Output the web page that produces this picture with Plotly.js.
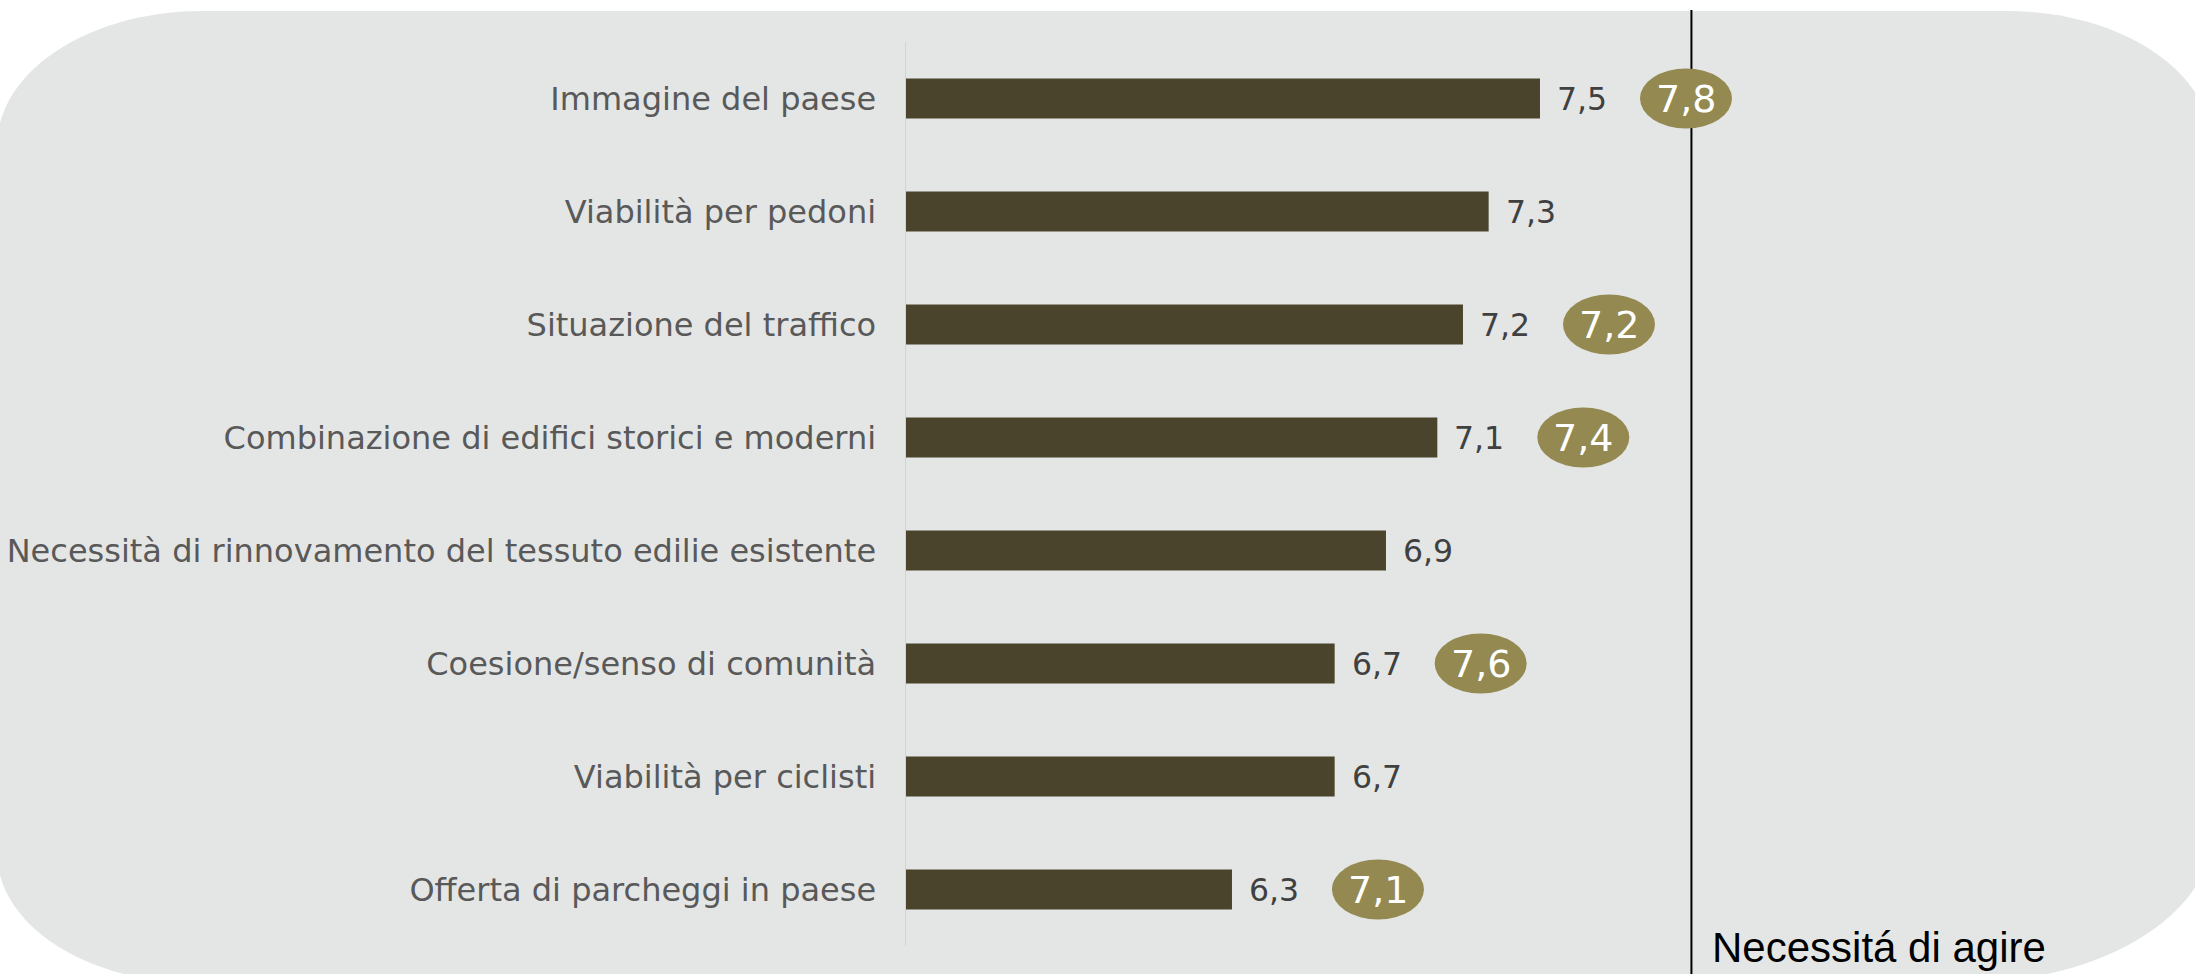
<!DOCTYPE html>
<html><head><meta charset="utf-8">
<script src="https://cdn.plot.ly/plotly-3.0.1.min.js"></script>
<style>html,body{margin:0;padding:0;background:#fff;} #chart{width:2195px;height:974px;}</style>
</head><body><div id="chart"></div>
<script>
// ---- data ----
const categories = [
  "Immagine del paese",
  "Viabilità per pedoni",
  "Situazione del traffico",
  "Combinazione di edifici storici e moderni",
  "Necessità di rinnovamento del tessuto edilie esistente",
  "Coesione/senso di comunità",
  "Viabilità per ciclisti",
  "Offerta di parcheggi in paese"
];
const ratingValues = [7.5, 7.3, 7.2, 7.1, 6.9, 6.7, 6.7, 6.3];
const actionValues = [7.8, null, 7.2, 7.4, null, 7.6, null, 7.1];
const actionLabel = "Necessitá di agire";
const actionLineValue = 8.09;

// ---- layout geometry ----
const W = 2195, H = 974;
const ML = 906, MT = 42, MB = 28, PW = 1019;
const MR = W - ML - PW;
const PH = H - MT - MB;
const X_RANGE = [5.03, 9.0];

const BAR_COLOR = "#4A442C";
const BUBBLE_COLOR = "#938951";
const BG_COLOR = "#E4E6E5";

const fmt = v => v.toFixed(1).replace(".", ",");
const px2x = px => (px - ML) / PW;
const py2y = py => (H - MB - py) / PH;

// rounded background path (pixel geometry -> paper coords)
function bgPath() {
  const L = -3, T = 11, R = 2212, B = 983, k = 0.5523;
  const c = [[205, 135], [205, 135], [250, 150], [200, 130]]; // TL, TR, BR, BL
  const P = (x, y) => px2x(x).toFixed(5) + "," + py2y(y).toFixed(5);
  let d = "M" + P(L + c[0][0], T);
  d += " L" + P(R - c[1][0], T);
  d += " C" + P(R - c[1][0] + k * c[1][0], T) + " " + P(R, T + c[1][1] - k * c[1][1]) + " " + P(R, T + c[1][1]);
  d += " L" + P(R, B - c[2][1]);
  d += " C" + P(R, B - c[2][1] + k * c[2][1]) + " " + P(R - c[2][0] + k * c[2][0], B) + " " + P(R - c[2][0], B);
  d += " L" + P(L + c[3][0], B);
  d += " C" + P(L + c[3][0] - k * c[3][0], B) + " " + P(L, B - c[3][1] + k * c[3][1]) + " " + P(L, B - c[3][1]);
  d += " L" + P(L, T + c[0][1]);
  d += " C" + P(L, T + c[0][1] - k * c[0][1]) + " " + P(L + c[0][0] - k * c[0][0], T) + " " + P(L + c[0][0], T);
  d += " Z";
  return d;
}

const idx = categories.map((_, i) => i);

const barTrace = {
  type: "bar",
  orientation: "h",
  y: idx,
  x: ratingValues,
  marker: { color: BAR_COLOR, line: { width: 0 } },
  hoverinfo: "skip"
};

const BUBBLE_OFFSET = 146, BUBBLE_W = 92, BUBBLE_H = 60;

const shapes = [
  { type: "path", xref: "paper", yref: "paper", path: bgPath(), fillcolor: BG_COLOR, line: { width: 0 }, layer: "below" },
  { type: "line", xref: "x", yref: "paper", x0: actionLineValue, x1: actionLineValue,
    y0: py2y(10), y1: py2y(974), line: { color: "#000000", width: 2 }, layer: "above" }
];
const annotations = [];

ratingValues.forEach((v, i) => {
  annotations.push({
    xref: "x", yref: "y", x: v, y: i, text: fmt(v), showarrow: false,
    xanchor: "left", yanchor: "middle", xshift: 15, yshift: 0,
    font: { family: "DejaVu Sans, Verdana, sans-serif", size: 31.5, color: "#404040" }
  });
});

actionValues.forEach((v, i) => {
  if (v === null) return;
  shapes.push({
    type: "circle", xref: "x", yref: "y", xsizemode: "pixel", ysizemode: "pixel",
    xanchor: ratingValues[i], yanchor: i,
    x0: BUBBLE_OFFSET - BUBBLE_W / 2, x1: BUBBLE_OFFSET + BUBBLE_W / 2,
    y0: -BUBBLE_H / 2, y1: BUBBLE_H / 2,
    fillcolor: BUBBLE_COLOR, line: { width: 0 }, layer: "above"
  });
  annotations.push({
    xref: "x", yref: "y", x: ratingValues[i], y: i, text: fmt(v), showarrow: false,
    xanchor: "center", yanchor: "middle", xshift: BUBBLE_OFFSET, yshift: 0,
    font: { family: "DejaVu Sans, Verdana, sans-serif", size: 38, color: "#FFFFFF" }
  });
});

annotations.push({
  xref: "x", yref: "paper", x: actionLineValue, y: py2y(947), text: actionLabel, showarrow: false,
  xanchor: "left", yanchor: "middle", xshift: 19,
  font: { family: "Liberation Sans, Arial, sans-serif", size: 42, color: "#000000" }
});

const layout = {
  width: W, height: H,
  margin: { l: ML, r: MR, t: MT, b: MB, pad: 0 },
  paper_bgcolor: "#FFFFFF",
  plot_bgcolor: "rgba(0,0,0,0)",
  showlegend: false,
  bargap: 0.646,
  xaxis: { range: X_RANGE, visible: false, showgrid: false, zeroline: false, fixedrange: true },
  yaxis: {
    type: "linear", range: [7.5, -0.5], tickmode: "array", tickvals: idx, ticktext: categories,
    showgrid: false, zeroline: false, showline: true, linecolor: "#D3D3D3", linewidth: 1.5,
    ticks: "outside", ticklen: 22, tickcolor: "rgba(0,0,0,0)",
    tickfont: { family: "DejaVu Sans, Verdana, sans-serif", size: 32, color: "#595959" },
    fixedrange: true
  },
  shapes: shapes,
  annotations: annotations
};

Plotly.newPlot("chart", [barTrace], layout, { displayModeBar: false, staticPlot: true });
</script>
</body></html>
